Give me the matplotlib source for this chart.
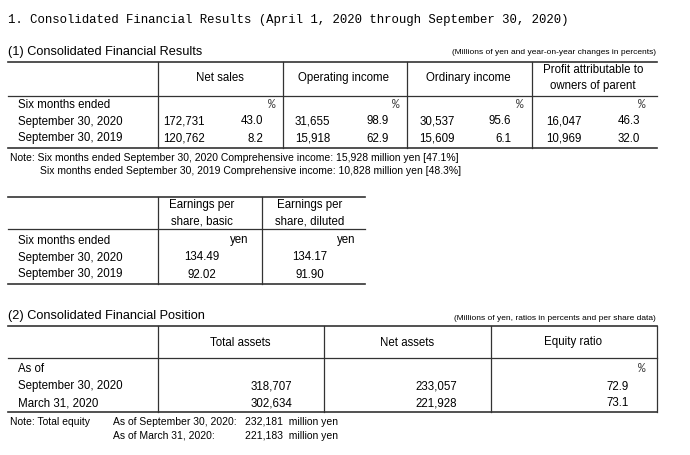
import matplotlib.pyplot as plt

plt.rcParams['font.family'] = ['Liberation Sans', 'DejaVu Sans']

fig = plt.figure(figsize=(6.9, 4.55), dpi=100)
ax = fig.add_axes([0, 0, 1, 1])
ax.set_xlim(0, 690)
ax.set_ylim(455, 0)
ax.axis('off')

fs = 8.3


def hline(y, x0, x1, lw=0.9):
    ax.plot([x0, x1], [y, y], color='#333333', lw=lw)


def vline(x, y0, y1, lw=0.9):
    ax.plot([x, x], [y0, y1], color='#333333', lw=lw)


def txt(x, y, s, ha='left', size=fs, **kw):
    ax.text(x, y, s, ha=ha, va='center_baseline', fontsize=size, color='black', **kw)


def pct(x, y):
    ax.text(x, y, '%', ha='right', va='center_baseline', fontsize=9,
            family='Liberation Mono', color='#444444')


# Title
txt(8, 18, '1. Consolidated Financial Results (April 1, 2020 through September 30, 2020)',
    size=8.9, family='Liberation Mono')

# ---- (1) Consolidated Financial Results
txt(8, 50, '(1) Consolidated Financial Results', size=9.2)
txt(656, 52, '(Millions of yen and year-on-year changes in percents)', ha='right', size=6)

res_heads = ['Net sales', 'Operating income', 'Ordinary income',
             'Profit attributable to\nowners of parent']
res_head_x = [220, 344, 468, 593]
res_rows = {
    'September 30, 2020': [('172,731', '43.0'), ('31,655', '98.9'),
                           ('30,537', '95.6'), ('16,047', '46.3')],
    'September 30, 2019': [('120,762', '8.2'), ('15,918', '62.9'),
                           ('15,609', '6.1'), ('10,969', '32.0')],
}
val_x = [205, 330, 455, 582]
pct_x = [263, 389, 511, 640]
pct_sign_x = [276, 399, 523, 646]

hline(62, 8, 657, 1.2)
hline(96, 8, 657)
hline(148, 8, 657, 1.2)
for x in [158, 283, 407, 532]:
    vline(x, 62, 148)
for h, x in zip(res_heads, res_head_x):
    ax.text(x, 78, h, ha='center', va='center', fontsize=fs, linespacing=1.45)
txt(18, 103, 'Six months ended')
for x in pct_sign_x:
    pct(x, 103)
for i, (label, vals) in enumerate(res_rows.items()):
    y = 120 + 17 * i
    txt(18, y, label)
    for (v, p), vx, px in zip(vals, val_x, pct_x):
        txt(vx, y, v, ha='right')
        txt(px, y, p, ha='right')

txt(10, 157, 'Note: Six months ended September 30, 2020 Comprehensive income: 15,928 million yen [47.1%]', size=7.5)
txt(40, 170, 'Six months ended September 30, 2019 Comprehensive income: 10,828 million yen [48.3%]', size=7.5)

# ---- Earnings per share
hline(197, 8, 365, 1.2)
hline(229, 8, 365)
hline(284, 8, 365, 1.2)
for x in [158, 262]:
    vline(x, 197, 284)
ax.text(202, 213, 'Earnings per\nshare, basic', ha='center', va='center', fontsize=fs, linespacing=1.45)
ax.text(310, 213, 'Earnings per\nshare, diluted', ha='center', va='center', fontsize=fs, linespacing=1.45)
txt(18, 239, 'Six months ended')
txt(248, 239, 'yen', ha='right')
txt(355, 239, 'yen', ha='right')
eps_rows = [('September 30, 2020', '134.49', '134.17'),
            ('September 30, 2019', '92.02', '91.90')]
for i, (label, basic, diluted) in enumerate(eps_rows):
    y = 256 + 17 * i
    txt(18, y, label)
    txt(202, y, basic, ha='center')
    txt(310, y, diluted, ha='center')

# ---- (2) Consolidated Financial Position
txt(8, 315, '(2) Consolidated Financial Position', size=9.2)
txt(656, 318, '(Millions of yen, ratios in percents and per share data)', ha='right', size=6)
hline(326, 8, 657, 1.2)
hline(358, 8, 657)
hline(412, 8, 657, 1.2)
for x in [158, 324, 491, 657]:
    vline(x, 326, 412)
for h, x in zip(['Total assets', 'Net assets', 'Equity ratio'], [240, 407, 573]):
    txt(x, 341, h, ha='center')
txt(18, 368, 'As of')
pct(646, 368)
pos_rows = [('September 30, 2020', '318,707', '233,057', '72.9'),
            ('March 31, 2020', '302,634', '221,928', '73.1')]
for i, (label, ta, na, er) in enumerate(pos_rows):
    y = 385 + 17 * i
    txt(18, y, label)
    txt(292, y, ta, ha='right')
    txt(457, y, na, ha='right')
    txt(629, y, er, ha='right')

txt(10, 421, 'Note: Total equity', size=7.5)
txt(113, 421, 'As of September 30, 2020:', size=7.5)
txt(245, 421, '232,181  million yen', size=7.5)
txt(113, 435, 'As of March 31, 2020:', size=7.5)
txt(245, 435, '221,183  million yen', size=7.5)

fig.savefig('out.png', dpi=100)
